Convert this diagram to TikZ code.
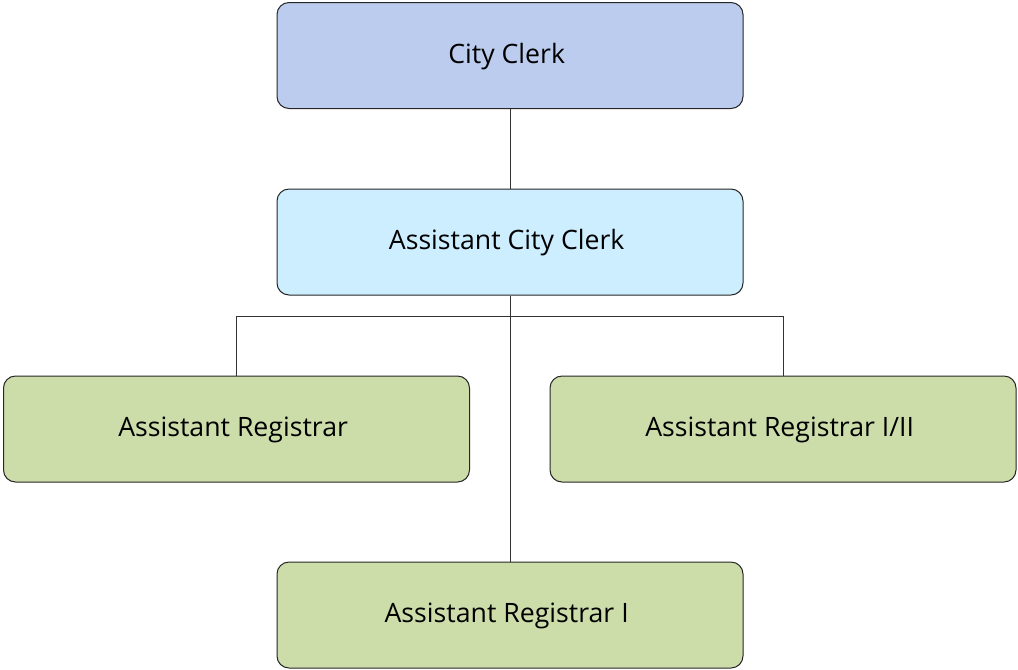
\documentclass[tikz,border=0pt]{standalone}
\usepackage{fontspec}
\setmainfont{Open Sans}
\begin{document}
\begin{tikzpicture}[x=0.75pt, y=-0.75pt]
\definecolor{clerkblue}{HTML}{BBCCEE}
\definecolor{assistcyan}{HTML}{CCEEFF}
\definecolor{regigreen}{HTML}{CDDDAA}
\tikzstyle{post} = [draw=black!85, line width=0.75pt, rounded corners=9pt, minimum width=349.5pt, minimum height=79.5pt, inner sep=0pt, text height=16.8pt, text depth=5pt, execute at end node=\kern5pt, font=\fontsize{20}{24}\selectfont]
\tikzstyle{link} = [draw=black!80, line width=0.75pt]
\useasboundingbox (0,0) rectangle (1018,669);

\node[post, fill=clerkblue] (clerk) at (510,55.5) {City Clerk};
\node[post, fill=assistcyan] (assist) at (510,242) {Assistant City Clerk};
\node[post, fill=regigreen] (reg) at (236.5,429) {Assistant Registrar};
\node[post, fill=regigreen] (regtwo) at (783,429) {Assistant Registrar I/II};
\node[post, fill=regigreen] (regone) at (510,615) {Assistant Registrar I};

\coordinate (split) at (510,316);

\draw[link] (clerk.south) -- (assist.north);
\draw[link] (assist.south) -- (split) -| (reg.north);
\draw[link] (split) -| (regtwo.north);
\draw[link] (split) -- (regone.north);
\end{tikzpicture}
\end{document}
